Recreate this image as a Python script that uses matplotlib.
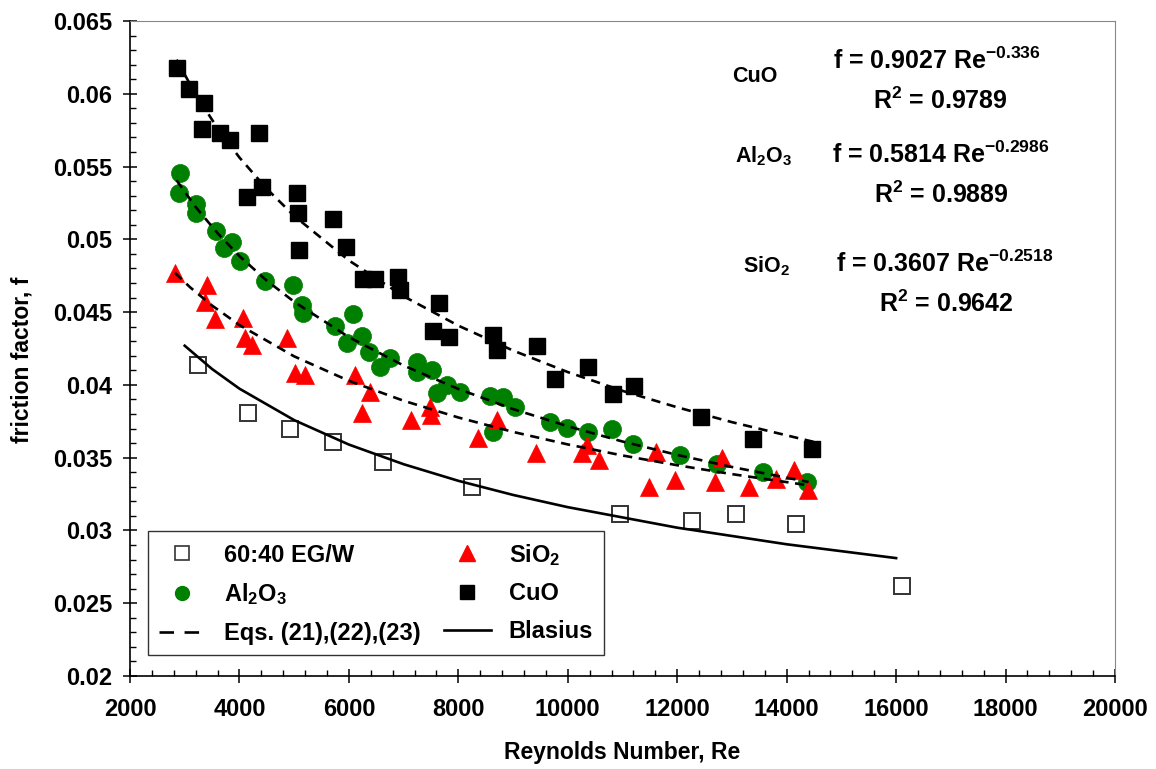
import numpy as np
import matplotlib
matplotlib.use('Agg')
import matplotlib.pyplot as plt
from matplotlib.lines import Line2D
from matplotlib.ticker import MultipleLocator

plt.rcParams['font.family'] = ['Liberation Sans', 'DejaVu Sans']
plt.rcParams['font.weight'] = 'bold'
plt.rcParams['mathtext.fontset'] = 'custom'
plt.rcParams['mathtext.rm'] = 'Liberation Sans:bold'
plt.rcParams['mathtext.it'] = 'Liberation Sans:bold'
plt.rcParams['mathtext.bf'] = 'Liberation Sans:bold'
plt.rcParams['mathtext.default'] = 'rm'

# ---------------- data ----------------
egw_re = [3240, 4160, 4925, 5710, 6625, 8250, 10960, 12270, 13080, 14175, 16100]
egw_f = [0.0414, 0.0381, 0.0370, 0.0361, 0.0347, 0.0330, 0.0311, 0.03065, 0.0311, 0.03045, 0.0262]

cuo_re = [2860, 3080, 3350, 3320, 3650, 3830, 4360, 4140, 4410, 5050, 5070, 5090, 5710,
          5950, 6260, 6480, 6900, 6940, 7650, 7540, 7830, 8640, 8710, 9440, 10370, 9770,
          10830, 11210, 12440, 13390, 14470]
cuo_f = [0.0618, 0.0603, 0.0594, 0.0576, 0.0573, 0.0568, 0.0573, 0.0529, 0.0536, 0.0532,
         0.0518, 0.0493, 0.0514, 0.0495, 0.0473, 0.0473, 0.0474, 0.0465, 0.0456, 0.0437,
         0.0433, 0.0434, 0.0424, 0.0427, 0.0412, 0.0404, 0.0394, 0.0399, 0.0378, 0.0363,
         0.0356]

al_re = [2914, 2896, 3207, 3207, 3572, 3718, 3865, 4011, 4468, 4980, 5145, 5163, 5748,
         6077, 5967, 6241, 6369, 6570, 6753, 7247, 7247, 7521, 7613, 7795, 8033, 8582,
         8819, 9039, 8637, 9678, 9989, 10373, 10812, 11196, 12055, 12732, 13573, 14377]
al_f = [0.05456, 0.05319, 0.05243, 0.05181, 0.05057, 0.04941, 0.04982, 0.04852, 0.04714,
        0.04687, 0.04550, 0.04495, 0.04405, 0.04488, 0.04289, 0.04337, 0.04227, 0.04124,
        0.04186, 0.04158, 0.04089, 0.04103, 0.03945, 0.04000, 0.03952, 0.03925, 0.03918,
        0.03849, 0.03677, 0.03746, 0.03705, 0.03677, 0.03698, 0.03595, 0.03519, 0.03457,
        0.03402, 0.03333]

si_re = [2823, 3408, 3371, 3554, 4066, 4102, 4230, 4870, 5017, 5199, 6113, 6388, 6241,
         7137, 7485, 7503, 8362, 8709, 9422, 10263, 10355, 10574, 11488, 11616, 11964,
         12695, 12823, 13317, 13811, 14140, 14395]
si_f = [0.04769, 0.04687, 0.04570, 0.04453, 0.04460, 0.04323, 0.04275, 0.04323, 0.04082,
        0.04069, 0.04069, 0.03952, 0.03808, 0.03760, 0.03849, 0.03794, 0.03636, 0.03760,
        0.03533, 0.03533, 0.03588, 0.03485, 0.03300, 0.03540, 0.03348, 0.03334, 0.03499,
        0.03300, 0.03355, 0.03416, 0.03279]

# fitted curves (Eqs. 21-23) and Blasius
cuo_fit_re = [2850, 3200, 3600, 4000, 4500, 5000, 6000, 7000, 8000, 9000, 10000, 11000, 12000, 13000, 14500]
cuo_fit_f = [0.06234, 0.05996, 0.05763, 0.05562, 0.05347, 0.05161, 0.04855, 0.04609, 0.04407,
             0.04236, 0.04088, 0.03959, 0.03846, 0.03744, 0.03608]
al_fit_re = [2850, 3200, 3600, 4000, 4500, 5000, 6000, 7000, 8000, 9000, 10000, 11000, 12000, 13000, 14400]
al_fit_f = [0.05406, 0.05222, 0.05042, 0.04885, 0.04716, 0.04571, 0.04328, 0.04133, 0.03972,
            0.03834, 0.03716, 0.03611, 0.03519, 0.03436, 0.03333]
si_fit_re = [2820, 3100, 3500, 4000, 5000, 6000, 7000, 8000, 9000, 10000, 11000, 12000, 13000, 14400]
si_fit_f = [0.0477, 0.0467, 0.04545, 0.04411, 0.04196, 0.04028, 0.03891, 0.03776, 0.03677,
            0.03591, 0.03515, 0.03448, 0.03387, 0.0331]
bla_re = [3000, 3500, 4000, 5000, 6000, 7000, 8000, 9000, 10000, 12000, 14000, 16000]
bla_f = [0.04269, 0.04109, 0.03974, 0.03758, 0.03590, 0.03455, 0.03341, 0.03244, 0.03160,
         0.03019, 0.02905, 0.02810]

x_ticks = [2000, 4000, 6000, 8000, 10000, 12000, 14000, 16000, 18000, 20000]
y_ticks = [0.02, 0.025, 0.03, 0.035, 0.04, 0.045, 0.05, 0.055, 0.06, 0.065]
y_tick_labels = ['0.02', '0.025', '0.03', '0.035', '0.04', '0.045', '0.05', '0.055', '0.06', '0.065']

# ---------------- figure ----------------
W, H = 1156, 769
fig = plt.figure(figsize=(W / 100, H / 100), dpi=100)
ax = fig.add_axes([130 / W, 1 - 676 / H, (1115 - 130) / W, (676 - 21) / H])

def fp(x, y):
    return (x / W, 1 - y / H)

green = '#008000'
red = '#ff0000'

ax.plot(egw_re, egw_f, linestyle='none', marker='s', ms=11, mfc='white', mec='#333333', mew=1.4, zorder=3)
ax.plot(al_re, al_f, linestyle='none', marker='o', ms=13, mfc=green, mec=green, mew=0.5, zorder=3)
ax.plot(si_re, si_f, linestyle='none', marker='^', ms=13, mfc=red, mec=red, mew=0.5, zorder=3)
ax.plot(cuo_re, cuo_f, linestyle='none', marker='s', ms=11, mfc='black', mec='black', zorder=3)

dash = (0, (3.5, 2.5))
for xr, yf in [(cuo_fit_re, cuo_fit_f), (al_fit_re, al_fit_f), (si_fit_re, si_fit_f)]:
    ax.plot(xr, yf, color='black', lw=1.9, linestyle=dash, zorder=4)
ax.plot(bla_re, bla_f, color='black', lw=1.9, zorder=4)

ax.set_xlim(2000, 20000)
ax.set_ylim(0.02, 0.065)
ax.set_xticks(x_ticks, [str(v) for v in x_ticks])
ax.set_yticks(y_ticks, y_tick_labels)
ax.xaxis.set_minor_locator(MultipleLocator(400))
ax.yaxis.set_minor_locator(MultipleLocator(0.001))
ax.tick_params(which='major', direction='inout', length=10, width=1.1, labelsize=17, color='black')
ax.tick_params(axis='y', which='major', pad=8)
ax.tick_params(axis='x', which='major', pad=11)
ax.tick_params(which='minor', direction='in', length=4, width=1.0, color='black')
for lab in ax.get_xticklabels() + ax.get_yticklabels():
    lab.set_fontweight('bold')

for s in ['left', 'bottom']:
    ax.spines[s].set_linewidth(1.2)
    ax.spines[s].set_color('black')
for s in ['top', 'right']:
    ax.spines[s].set_linewidth(0.8)
    ax.spines[s].set_color('#888888')

ax.set_xlabel('Reynolds Number, Re', fontsize=16.5, fontweight='bold')
ax.xaxis.set_label_coords(0.5, (676 - 752) / 655)
ax.xaxis.label.set_va('center')
ax.set_ylabel('friction factor, f', fontsize=16.5, fontweight='bold')
ax.yaxis.set_label_coords((22 - 130) / 985, (676 - 360) / 655)
ax.yaxis.label.set_va('center')

# annotations
fig.text(*fp(755, 77), 'CuO', fontsize=15.5, fontweight='bold', ha='center', va='center')
fig.text(*fp(833, 69), r'f = 0.9027 Re$^{-0.336}$', fontsize=18, fontweight='bold', ha='left', va='baseline')
fig.text(*fp(873, 109), r'R$^2$ = 0.9789', fontsize=18, fontweight='bold', ha='left', va='baseline')
fig.text(*fp(735, 162), r'Al$_2$O$_3$', fontsize=15.5, fontweight='bold', ha='left', va='baseline')
fig.text(*fp(832, 163), r'f = 0.5814 Re$^{-0.2986}$', fontsize=18, fontweight='bold', ha='left', va='baseline')
fig.text(*fp(874, 203), r'R$^2$ = 0.9889', fontsize=18, fontweight='bold', ha='left', va='baseline')
fig.text(*fp(743, 272), r'SiO$_2$', fontsize=15.5, fontweight='bold', ha='left', va='baseline')
fig.text(*fp(836, 272), r'f = 0.3607 Re$^{-0.2518}$', fontsize=18, fontweight='bold', ha='left', va='baseline')
fig.text(*fp(879, 312), r'R$^2$ = 0.9642', fontsize=18, fontweight='bold', ha='left', va='baseline')

# legend
h_egw = Line2D([], [], linestyle='none', marker='s', ms=10.5, mfc='white', mec='#333333', mew=1.2)
h_al = Line2D([], [], linestyle='none', marker='o', ms=10, mfc=green, mec=green)
h_eq = Line2D([], [], color='black', lw=1.9, linestyle=(0, (5.5, 4)))
h_si = Line2D([], [], linestyle='none', marker='^', ms=11, mfc=red, mec=red)
h_cuo = Line2D([], [], linestyle='none', marker='s', ms=10.5, mfc='black', mec='black')
h_bla = Line2D([], [], color='black', lw=1.9)
leg = ax.legend([h_egw, h_al, h_eq, h_si, h_cuo, h_bla],
                ['60:40 EG/W', r'Al$_2$O$_3$', 'Eqs. (21),(22),(23)', r'SiO$_2$', 'CuO', 'Blasius'],
                ncol=2, loc='upper left', bbox_to_anchor=fp(148, 531), bbox_transform=fig.transFigure,
                borderaxespad=0, frameon=True, fancybox=False, edgecolor='black',
                prop={'size': 17, 'weight': 'bold'}, handlelength=2.0, handletextpad=0.75,
                columnspacing=1.0, labelspacing=0.62, borderpad=0.45)
leg.get_frame().set_linewidth(1.0)

fig.savefig('out.png', dpi=100)
